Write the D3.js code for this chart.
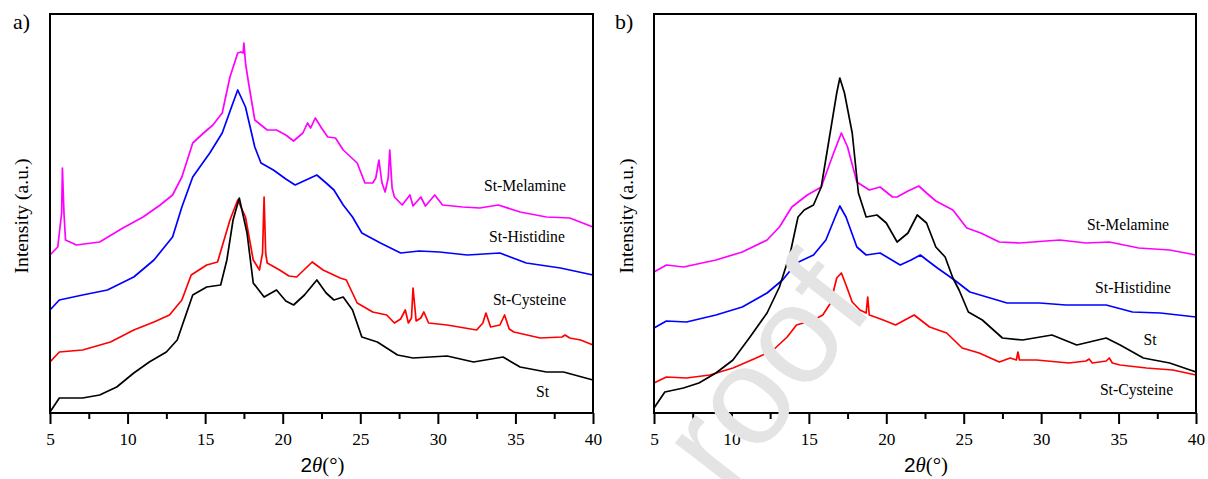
<!DOCTYPE html>
<html>
<head>
<meta charset="utf-8">
<script src="https://cdn.jsdelivr.net/npm/d3@7"></script>
<style>
  html, body { margin: 0; padding: 0; background: #fff; }
  svg { display: block; }
</style>
</head>
<body>
<svg id="chart" width="1208" height="479"></svg>
<script>
// ---------- DATA (2θ in degrees, intensity in arbitrary units) ----------
const xTicks = [5, 10, 15, 20, 25, 30, 35, 40];
const xMinorTicks = [7.5, 12.5, 17.5, 22.5, 27.5, 32.5, 37.5];

// Panel a)
const aSt = [[5,1],[5.6,15],[7.1,15],[8.2,18],[9.3,26],[10.4,40],[11.4,51],[12.5,61],[13.2,73],[13.8,100],[14.2,118],[15.1,126],[16,128],[16.4,153],[16.8,193],[17.2,215],[17.7,180],[18.1,130],[18.8,116],[19.6,123],[20.2,112],[20.7,108],[21.4,118],[22.2,133],[22.8,120],[23.3,113],[23.9,116],[24.5,103],[25.1,76],[26.1,71],[27.4,58],[28.4,55],[30.6,57],[32.3,51],[34.2,56],[35.3,46],[37,41],[38.1,41],[40,33]];
const aCysteine = [[5,51],[5.6,61],[7.1,63],[8.9,71],[10.4,83],[11.7,91],[12.7,98],[13.5,113],[14.1,138],[15.1,148],[15.8,151],[16.6,193],[17.1,213],[17.6,196],[18.1,153],[18.5,143],[18.7,160],[18.8,216],[18.9,160],[19.0,150],[19.8,143],[20.4,137],[20.9,136],[21.9,151],[22.6,143],[23.7,135],[24.1,133],[24.8,110],[25.8,101],[26.7,98],[27.2,90],[27.6,94],[27.9,103],[28.1,90],[28.3,95],[28.4,125],[28.6,92],[28.9,95],[29.1,101],[29.4,90],[30.6,88],[32.5,83],[32.9,90],[33.1,100],[33.4,86],[34.0,88],[34.3,98],[34.6,84],[34.9,81],[36.6,75],[38.0,76],[38.2,78],[38.5,75],[39.2,73],[40,68]];
const aHistidine = [[5,103],[5.6,113],[7.1,118],[8.7,123],[10.4,136],[11.7,153],[12.9,176],[13.5,206],[14.2,236],[15.3,260],[16.1,280],[16.7,306],[17.1,323],[17.6,306],[18.2,266],[18.6,250],[19.4,243],[20.2,234],[20.8,228],[21.5,233],[22.2,238],[22.8,230],[23.3,223],[23.9,208],[24.5,196],[25.1,180],[26.3,170],[27.6,160],[28.8,162],[30.1,161],[31.9,158],[34,160],[35.7,150],[37.9,145],[40,138]];
const aMelamine = [[5,158],[5.5,166],[5.75,200],[5.8,245],[5.9,200],[6.0,173],[6.7,168],[8.2,171],[9.7,185],[11,196],[12.1,208],[12.9,218],[13.5,236],[14.2,270],[14.9,280],[15.5,288],[16.1,300],[16.6,336],[17.1,360],[17.3,361],[17.45,360],[17.5,370],[17.6,350],[17.8,330],[18.2,293],[19,283],[19.6,283],[20.2,278],[20.7,272],[21.3,280],[21.6,290],[21.8,285],[22.1,295],[22.5,285],[22.9,276],[23.4,275],[23.9,263],[24.8,250],[25.3,230],[25.8,230],[26.0,235],[26.2,253],[26.4,230],[26.6,221],[26.8,235],[26.9,263],[27.05,225],[27.2,216],[27.7,208],[28.2,218],[28.4,207],[28.9,216],[29.2,207],[29.8,218],[30.3,208],[31.6,206],[32.7,205],[33.9,208],[35.3,201],[37,196],[38.5,195],[40,186]];

// Panel b)
const bSt = [[5,5],[5.7,21],[6.9,25],[7.9,30],[9,40],[10.1,53],[11.2,76],[12.3,100],[13.1,126],[13.8,160],[14.3,196],[14.7,203],[15.3,208],[15.8,226],[16.3,273],[16.8,320],[17,335],[17.3,320],[17.8,280],[18.2,220],[18.7,196],[19.4,198],[20,190],[20.7,171],[21.4,180],[22,198],[22.6,190],[23.2,166],[23.8,156],[24.3,135],[24.7,123],[25.3,101],[26.2,93],[27.5,75],[28.8,73],[30.7,78],[32.3,68],[34.2,75],[35.1,68],[36.6,55],[38.3,50],[40,41]];
const bMelamine = [[5,141],[5.8,148],[6.9,146],[9,153],[10.7,161],[12.3,173],[13.1,186],[13.9,206],[14.9,218],[15.8,226],[16.6,260],[17.1,280],[17.5,266],[18.1,231],[18.9,223],[19.6,226],[20.4,216],[20.7,216],[21.4,222],[22.1,227],[22.6,220],[23.2,212],[24.3,203],[25.2,185],[26.1,180],[27.3,171],[28.6,170],[31.2,173],[32.9,170],[34.4,171],[36.3,165],[38.3,163],[40,158]];
const bHistidine = [[5,85],[5.8,92],[7.1,91],[9,98],[10.7,106],[12.3,120],[13.3,133],[14.2,150],[15.3,158],[16.1,173],[16.7,196],[17,207],[17.4,196],[18.1,166],[18.7,158],[19.6,160],[20.9,148],[21.6,153],[22.2,158],[22.7,152],[23.3,145],[24.4,133],[25.4,121],[27.8,110],[29.9,110],[31.6,108],[34.2,108],[35.9,101],[37.7,100],[40,96]];
const bCysteine = [[5,30],[5.8,36],[7.1,35],[8.6,38],[10.1,45],[11.6,55],[12.7,63],[13.6,76],[14.2,88],[15.3,93],[15.9,98],[16.4,110],[16.8,135],[17.1,140],[17.4,128],[17.8,111],[18.3,103],[18.7,100],[18.8,116],[18.9,98],[19.1,97],[19.8,93],[20.6,88],[21.8,98],[22.8,86],[23.9,80],[24.9,65],[26,60],[27.3,51],[28.0,55],[28.4,53],[28.5,61],[28.6,53],[29.7,53],[31.8,50],[32.9,52],[33.1,54],[33.3,50],[34.2,52],[34.4,55],[34.6,50],[35.1,48],[36.8,45],[38.5,43],[40,38]];

const seriesNames = ["St", "St-Cysteine", "St-Histidine", "St-Melamine"];
const seriesColors = ["#000000", "#ff0000", "#0000ff", "#ff00ff"];

// ---------- DRAWING ----------
const svg = d3.select("#chart");
const serif = "Liberation Serif, Times New Roman, DejaVu Serif, serif";
const sans = "Liberation Sans, Arial, sans-serif";

// scale a text's font so that it spans a given width
function fitWidth(sel, base, target) {
  sel.style("font-size", base + "px");
  const w = sel.node().getComputedTextLength();
  const fs = w > 0 ? base * target / w : base;
  sel.style("font-size", fs.toFixed(2) + "px");
  return fs;
}
// measure font sizes once
const probe = svg.append("g").attr("opacity", 0);
const labelFs = fitWidth(probe.append("text").style("font-family", serif).text("St-Melamine"), 15, 82);
const tickFs = fitWidth(probe.append("text").style("font-family", serif).text("10"), 17, 17.3);
const yTitleFs = fitWidth(probe.append("text").style("font-family", serif).text("Intensity (a.u.)"), 18, 115);
const letterFs = fitWidth(probe.append("text").style("font-family", serif).text("a)"), 18, 17);
probe.remove();

function panel(cfg) {
  const x = d3.scaleLinear().domain([5, 40]).range([cfg.left, cfg.right]);
  const y = d3.scaleLinear().domain([0, 399]).range([cfg.bottom, cfg.top]);
  const g = svg.append("g");

  const line = d3.line().x(d => x(d[0])).y(d => y(d[1]));
  cfg.series.forEach(s => {
    g.append("path").datum(s.data)
      .attr("fill", "none").attr("stroke", s.color)
      .attr("stroke-width", 1.7).attr("stroke-linejoin", "round")
      .attr("d", line);
  });

  // frame
  g.append("rect")
    .attr("x", cfg.left).attr("y", cfg.top)
    .attr("width", cfg.right - cfg.left).attr("height", cfg.bottom - cfg.top)
    .attr("fill", "none").attr("stroke", "#000").attr("stroke-width", 2);

  // bottom axis: major ticks
  const ax = g.append("g").attr("transform", `translate(0,${cfg.bottom})`)
    .call(d3.axisBottom(x).tickValues(xTicks).tickSize(11).tickPadding(9).tickFormat(d3.format("d")));
  ax.select(".domain").remove();
  ax.selectAll(".tick line").attr("stroke-width", 2);
  ax.selectAll(".tick text").style("font-family", serif).style("font-size", tickFs.toFixed(2) + "px").attr("fill", "#000");

  const axm = g.append("g").attr("transform", `translate(0,${cfg.bottom})`)
    .call(d3.axisBottom(x).tickValues(xMinorTicks).tickSize(6).tickFormat(""));
  axm.select(".domain").remove();
  axm.selectAll(".tick line").attr("stroke-width", 2);

  // series labels
  cfg.labels.forEach(l => {
    g.append("text").attr("x", l.x).attr("y", y(l.v))
      .attr("text-anchor", "middle").style("font-family", serif)
      .style("font-size", labelFs.toFixed(2) + "px").attr("fill", "#000").text(l.text);
  });

  // x title
  const t = g.append("text").attr("x", (cfg.left + cfg.right) / 2 + 1).attr("y", 472)
    .attr("text-anchor", "middle").style("font-size", "19px").attr("fill", "#000");
  t.append("tspan").style("font-family", sans).text("2");
  t.append("tspan").style("font-family", serif).style("font-style", "italic").text("θ");
  t.append("tspan").style("font-family", serif).text("(°)");
  fitWidth(t, 19, 44);

  // y title
  g.append("text")
    .attr("transform", `translate(${cfg.ytitleX},216) rotate(-90)`)
    .attr("text-anchor", "middle").style("font-family", serif)
    .style("font-size", yTitleFs.toFixed(2) + "px").attr("fill", "#000").text("Intensity (a.u.)");

  // panel letter
  g.append("text").attr("x", cfg.letterX).attr("y", 29)
    .style("font-family", serif).style("font-size", letterFs.toFixed(2) + "px").attr("fill", "#000").text(cfg.letter);
}

panel({
  left: 50, right: 593, top: 14, bottom: 413, ytitleX: 28, letterX: 13, letter: "a)",
  series: [
    { data: aCysteine, color: seriesColors[1] },
    { data: aSt, color: seriesColors[0] },
    { data: aHistidine, color: seriesColors[2] },
    { data: aMelamine, color: seriesColors[3] }
  ],
  labels: [
    { text: seriesNames[3], x: 525, v: 222 },
    { text: seriesNames[2], x: 527, v: 171 },
    { text: seriesNames[1], x: 529.5, v: 108 },
    { text: seriesNames[0], x: 542.5, v: 16 }
  ]
});

panel({
  left: 654, right: 1196, top: 14, bottom: 413, ytitleX: 633, letterX: 615, letter: "b)",
  series: [
    { data: bCysteine, color: seriesColors[1] },
    { data: bHistidine, color: seriesColors[2] },
    { data: bMelamine, color: seriesColors[3] },
    { data: bSt, color: seriesColors[0] }
  ],
  labels: [
    { text: seriesNames[3], x: 1128, v: 183 },
    { text: seriesNames[2], x: 1133, v: 120 },
    { text: seriesNames[0], x: 1150, v: 68 },
    { text: seriesNames[1], x: 1136.5, v: 18 }
  ]
});

// watermark (only its visible part)
svg.append("text")
  .attr("transform", "translate(876,306) rotate(-52)")
  .attr("text-anchor", "end")
  .style("font-family", sans)
  .style("font-size", "140px").attr("fill", "#e4e4e4")
  .text("roof");
</script>
</body>
</html>
